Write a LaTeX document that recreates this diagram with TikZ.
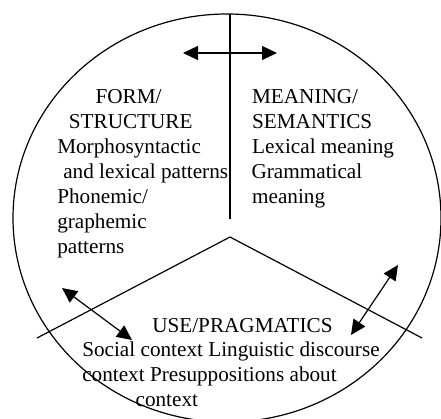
\documentclass[tikz,border=0pt]{standalone}
\usepackage{fontspec}
\setmainfont{Liberation Serif}
\usetikzlibrary{arrows.meta}
\begin{document}
\begin{tikzpicture}[x=1bp,y=1bp,line width=1.2bp,
  lbl/.style={anchor=base west, inner sep=0pt, font=\fontsize{21.2bp}{25bp}\selectfont},
  dbl/.style={{Triangle[length=15bp,width=14bp]}-{Triangle[length=15bp,width=14bp]}}]
\useasboundingbox (0,0) rectangle (441,418);
% outer ellipse
\draw (227,200) ellipse [x radius=214bp, y radius=204bp];
% dividers
\coordinate (vtop) at (230,404);
\coordinate (vbot) at (230,199);
\coordinate (apex) at (230,181);
\coordinate (vl) at (37,80);
\coordinate (vr) at (422,80);
\draw (vtop) -- (vbot);
\draw (vl) -- (apex) -- (vr);
% double arrows
\coordinate (hl) at (183,365);
\coordinate (hr) at (277,365);
\coordinate (al1) at (62,130);
\coordinate (al2) at (132,78);
\coordinate (ar1) at (351,83);
\coordinate (ar2) at (398,153);
\draw[dbl] (hl) -- (hr);
\draw[dbl] (al1) -- (al2);
\draw[dbl] (ar1) -- (ar2);
% left block
\node[lbl] (f1) at (95,314.7) {FORM/};
\node[lbl] (f2) at (68.3,289.7) {STRUCTURE};
\node[lbl] (f3) at (56.7,264.7) {Morphosyntactic};
\node[lbl] (f4) at (62.7,239.7) {and lexical patterns};
\node[lbl] (f5) at (56.7,214.7) {Phonemic/};
\node[lbl] (f6) at (56.7,189.7) {graphemic};
\node[lbl] (f7) at (56.7,164.7) {patterns};
% right block
\node[lbl] (m1) at (251.5,314.7) {MEANING/};
\node[lbl] (m2) at (251.5,289.7) {SEMANTICS};
\node[lbl] (m3) at (251.5,264.7) {Lexical meaning};
\node[lbl] (m4) at (251.0,239.7) {Grammatical};
\node[lbl] (m5) at (251.5,214.7) {meaning};
% bottom block
\node[lbl] (u1) at (151.7,85.3) {USE/PRAGMATICS};
\node[lbl] (u2) at (81.7,61.3) {Social context Linguistic discourse};
\node[lbl] (u3) at (81.7,36.3) {context Presuppositions about};
\node[lbl] (u4) at (135,11.3) {context};
\end{tikzpicture}
\end{document}
